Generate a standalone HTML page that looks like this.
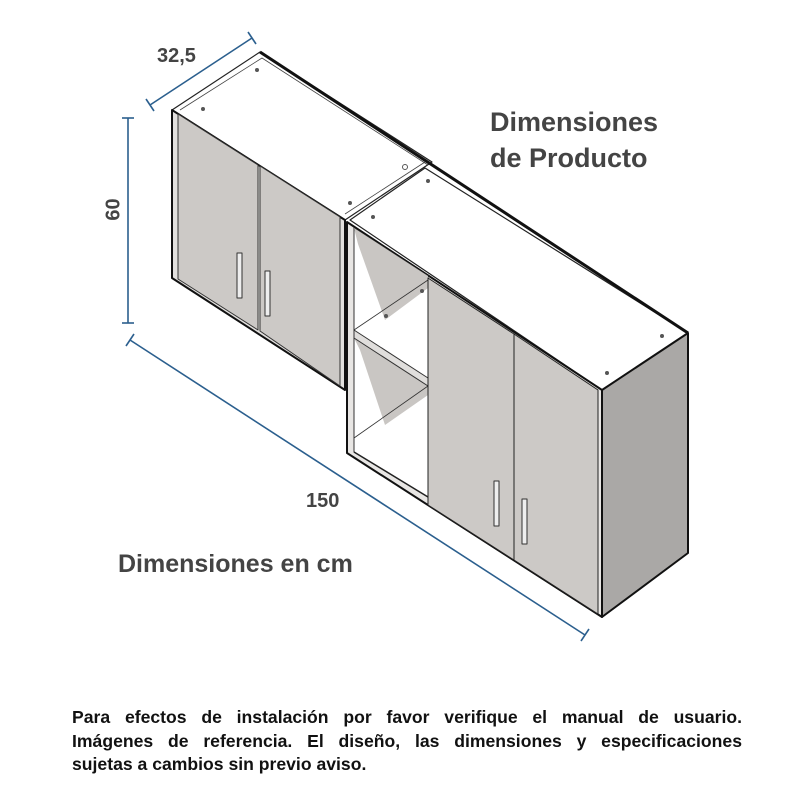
<!DOCTYPE html>
<html><head><meta charset="utf-8"><style>
body{margin:0;background:#fff;width:800px;height:800px;overflow:hidden;position:relative;font-family:"Liberation Sans",sans-serif}
.t{position:absolute;font-weight:bold;color:#444}
.l{position:absolute;left:72px;width:670px;font-weight:bold;font-size:17.6px;line-height:20px;color:#111;white-space:nowrap}
.j{text-align:justify;text-align-last:justify;white-space:normal}
</style></head><body>
<svg width="800" height="800" style="position:absolute;left:0;top:0" stroke-linejoin="round">
<g stroke="#2b5f8e" stroke-width="1.6" fill="none">
<line x1="150" y1="105" x2="252" y2="38"/><line x1="146" y1="99" x2="154" y2="111"/><line x1="248" y1="32" x2="256" y2="44"/>
<line x1="128" y1="118" x2="128" y2="323"/><line x1="122" y1="118" x2="134" y2="118"/><line x1="122" y1="323" x2="134" y2="323"/>
<line x1="130" y1="340" x2="585" y2="635"/><line x1="126" y1="346" x2="134" y2="334"/><line x1="581" y1="641" x2="589" y2="629"/>
</g>
<polygon points="172,110 260,52 432,162 345,220" fill="#fff" stroke="#222" stroke-width="1.2"/>
<polyline points="180,110 262,58 428,165" fill="none" stroke="#444" stroke-width="0.8"/>
<polygon points="172,110 345,220 345,390 172,278" fill="#e2e0de" stroke="#111" stroke-width="2"/>
<polygon points="178,114 258,165 258,330 178,279" fill="#ccc9c6" stroke="#333" stroke-width="1"/>
<polygon points="260,166 340,217 340,386 260,331" fill="#ccc9c6" stroke="#333" stroke-width="1"/>
<rect x="237" y="253" width="5" height="45" fill="#eee" stroke="#333" stroke-width="1"/>
<rect x="265" y="271" width="5" height="45" fill="#eee" stroke="#333" stroke-width="1"/>
<polygon points="350,220 425,168 688,333 602,390" fill="#fff" stroke="#222" stroke-width="1.2"/>
<line x1="345" y1="214" x2="425" y2="162" stroke="#444" stroke-width="0.8"/>
<line x1="260" y1="52" x2="688" y2="333" stroke="#111" stroke-width="3"/>
<polygon points="602,390 688,333 688,553 602,617" fill="#aaa8a6" stroke="#111" stroke-width="2"/>
<polygon points="347,222 602,390 602,617 347,453" fill="#e8e6e4" stroke="#111" stroke-width="2"/>
<polygon points="354,228 428,276 428,497 354,452" fill="#fff" stroke="#333" stroke-width="1"/>
<polygon points="354,228 428,276 428,288 385,320 358,244" fill="#c9c6c3"/>
<polygon points="354,338 428,386 428,395 385,425 360,350" fill="#c9c6c3"/>
<polygon points="354,330 428,378 428,386 354,338" fill="#e0dedc" stroke="#333" stroke-width="1"/>
<line x1="354" y1="330" x2="428" y2="280" stroke="#333" stroke-width="0.8"/>
<line x1="354" y1="438" x2="428" y2="386" stroke="#333" stroke-width="0.8"/>
<line x1="354" y1="452" x2="428" y2="497" stroke="#222" stroke-width="1.5"/>
<polygon points="428,278 514,334 514,560 428,505" fill="#ccc9c6" stroke="#222" stroke-width="1"/>
<polygon points="514,334 598,390 598,614 514,560" fill="#ccc9c6" stroke="#222" stroke-width="1"/>
<rect x="494" y="481" width="5" height="45" fill="#eee" stroke="#333" stroke-width="1"/>
<rect x="522" y="499" width="5" height="45" fill="#eee" stroke="#333" stroke-width="1"/>
<g fill="#555">
<circle cx="257" cy="70" r="2"/><circle cx="203" cy="109" r="2"/><circle cx="350" cy="203" r="2"/><circle cx="428" cy="181" r="2"/><circle cx="373" cy="217" r="2"/>
<circle cx="607" cy="373" r="2"/><circle cx="662" cy="336" r="2"/><circle cx="422" cy="291" r="2"/><circle cx="386" cy="316" r="2"/>
</g>
<circle cx="405" cy="167" r="2.5" fill="#fff" stroke="#555"/>
</svg>
<div class="t" style="left:157px;top:45px;font-size:20px">32,5</div>
<div class="t" style="left:103px;top:198px;font-size:20px;transform:rotate(-90deg)">60</div>
<div class="t" style="left:306px;top:490px;font-size:20px">150</div>
<div class="t" style="left:118px;top:550px;font-size:25px">Dimensiones en cm</div>
<div class="t" style="left:490px;top:104px;font-size:27px;line-height:36px">Dimensiones<br>de Producto</div>
<div class="l j" style="top:707px">Para efectos de instalación por favor verifique el manual de usuario.</div>
<div class="l j" style="top:731px">Imágenes de referencia. El diseño, las dimensiones y especificaciones</div>
<div class="l" style="top:754px">sujetas a cambios sin previo aviso.</div>
</body></html>
